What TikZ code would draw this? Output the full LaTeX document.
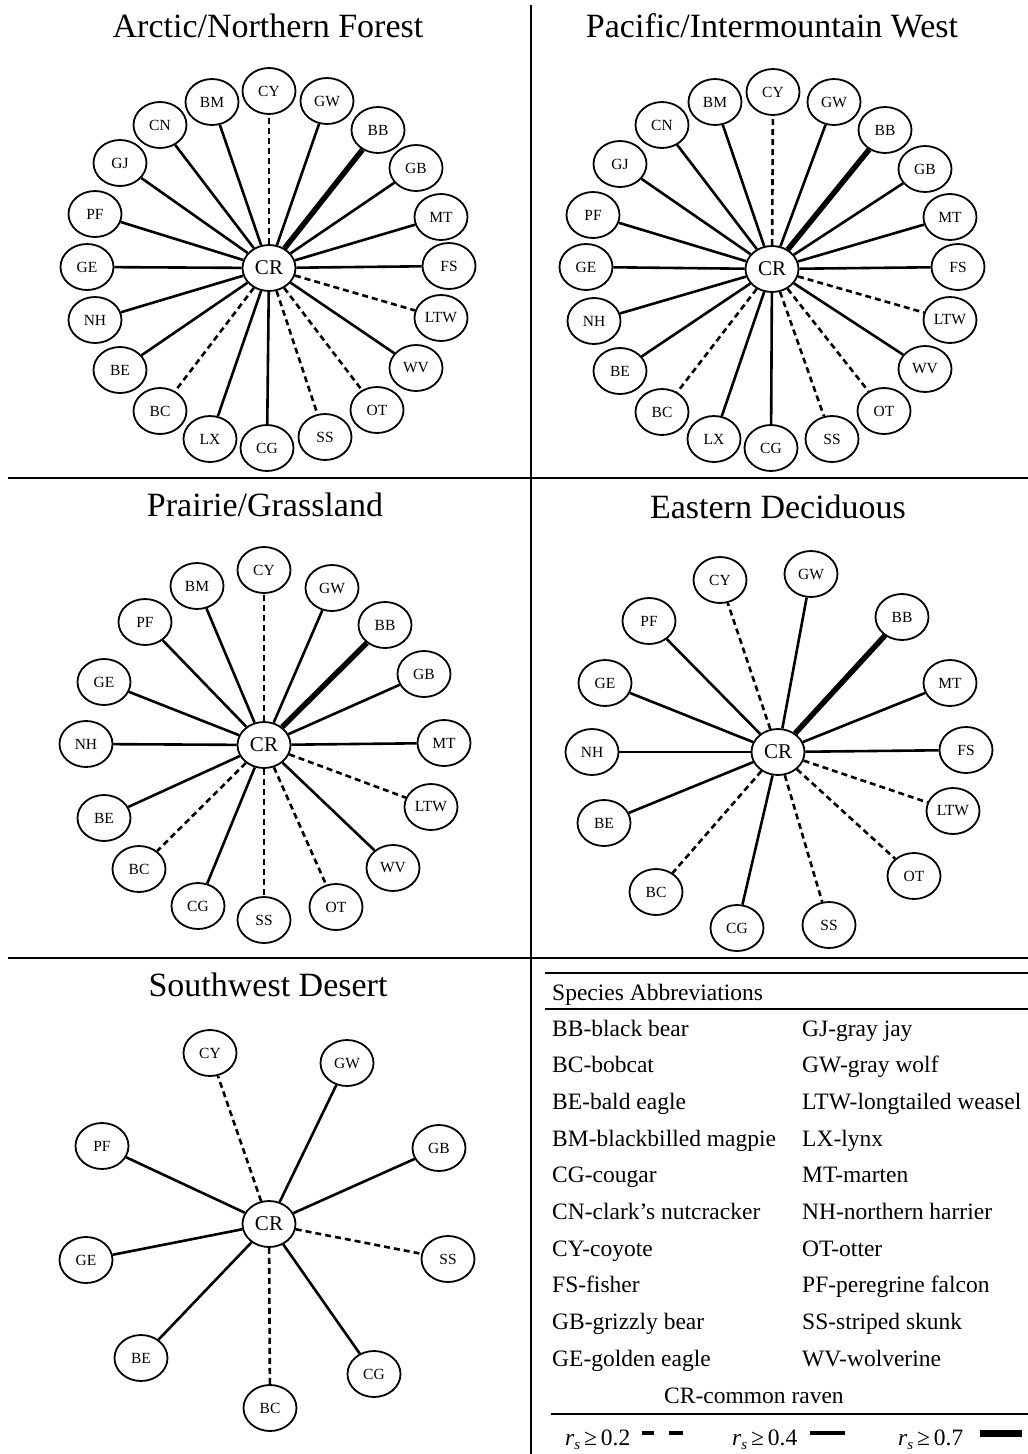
\documentclass[tikz,border=0pt]{standalone}
\usepackage{fontspec}
\setmainfont{Liberation Serif}
\usetikzlibrary{shapes.geometric}
\tikzset{
  sp/.style={ellipse, draw, line width=1.8pt, minimum width=53pt, minimum height=46pt, inner sep=0pt, fill=white, font=\fontsize{15.5}{15.5}\selectfont},
  crn/.style={sp, font=\fontsize{21}{21}\selectfont},
  edge/.style={line width=2.6pt},
  dedge/.style={line width=2.6pt, dash pattern=on 6pt off 4pt},
  tedge/.style={line width=5.5pt},
  ttl/.style={anchor=base, inner sep=0pt, font=\fontsize{34}{34}\selectfont},
  lt/.style={anchor=base west, inner sep=0pt, font=\fontsize{23.5}{23.5}\selectfont},
  rule/.style={line width=2pt},
  lrule/.style={line width=1.4pt}
}
\begin{document}
\begin{tikzpicture}[x=1pt,y=-1pt]
\useasboundingbox (0,0) rectangle (1028,1454);
% dividers
\draw[rule] (531,5) -- (531,1454);
\draw[rule] (8,478) -- (1028,478);
\draw[rule] (8,958) -- (1028,958);

% ---------- Panel A: Arctic/Northern Forest
\node[ttl] (ta) at (268,37) {Arctic/Northern Forest};
\foreach \n/\x/\y in {CY/269/91,BM/212/102,CN/160/125,GJ/120/163,PF/95/214,GE/87/267,NH/95/320,BE/120/370,BC/160/411,LX/210/439,CG/267/448,SS/325/437,OT/377/410,WV/416/368,LTW/441/318,FS/449/266,MT/441/217,GB/416/168,BB/378/130,GW/327/101}
  \node[sp] (a\n) at (\x,\y) {\n};
\node[crn] (aCR) at (269,268) {CR};
\foreach \n in {BM,CN,GJ,PF,GE,NH,BE,LX,CG,WV,FS,MT,GB,GW} \draw[edge] (aCR) -- (a\n);
\foreach \n in {CY,BC,SS,OT,LTW} \draw[dedge] (aCR) -- (a\n);
\draw[tedge] (aCR) -- (aBB);

% ---------- Panel B: Pacific/Intermountain West
\node[ttl] (tb) at (772,37) {Pacific/Intermountain West};
\foreach \n/\x/\y in {CY/773/92,BM/715/102,CN/662/125,GJ/620/164,PF/593/215,GE/586/267,NH/594/321,BE/620/371,BC/662/412,LX/714/439,CG/771/448,SS/832/439,OT/884/411,WV/925/369,LTW/950/320,FS/958/267,MT/950/217,GB/925/169,BB/885/130,GW/834/102}
  \node[sp] (b\n) at (\x,\y) {\n};
\node[crn] (bCR) at (772,269) {CR};
\foreach \n in {BM,CN,GJ,PF,GE,NH,BE,LX,CG,WV,FS,MT,GB,GW} \draw[edge] (bCR) -- (b\n);
\foreach \n in {CY,BC,SS,OT,LTW} \draw[dedge] (bCR) -- (b\n);
\draw[tedge] (bCR) -- (bBB);

% ---------- Panel C: Prairie/Grassland
\node[ttl] (tc) at (265,516) {Prairie/Grassland};
\foreach \n/\x/\y in {CY/264/570,BM/197/586,PF/145/622,GE/104/682,NH/86/744,BE/104/818,BC/139/869,CG/198/906,SS/264/920,OT/336/907,WV/393/868,LTW/431/807,MT/444/743,GB/424/674,BB/385/625,GW/332/588}
  \node[sp] (c\n) at (\x,\y) {\n};
\node[crn] (cCR) at (264,745) {CR};
\foreach \n in {BM,PF,GE,NH,BE,CG,WV,MT,GB,GW} \draw[edge] (cCR) -- (c\n);
\foreach \n in {CY,BC,SS,OT,LTW} \draw[dedge] (cCR) -- (c\n);
\draw[tedge] (cCR) -- (cBB);

% ---------- Panel D: Eastern Deciduous
\node[ttl] (td) at (778,518) {Eastern Deciduous};
\foreach \n/\x/\y in {CY/720/580,GW/811/574,PF/649/621,BB/902/617,GE/605/683,MT/950/683,NH/592/752,FS/966/750,BE/604/823,LTW/953/811,BC/656/892,OT/914/876,CG/737/928,SS/829/925}
  \node[sp] (d\n) at (\x,\y) {\n};
\node[crn] (dCR) at (778,752) {CR};
\foreach \n in {GW,PF,GE,MT,NH,FS,BE,CG} \draw[edge] (dCR) -- (d\n);
\foreach \n in {CY,LTW,BC,OT,SS} \draw[dedge] (dCR) -- (d\n);
\draw[tedge] (dCR) -- (dBB);

% ---------- Panel E: Southwest Desert
\node[ttl] (te) at (268,996) {Southwest Desert};
\foreach \n/\x/\y in {CY/210/1053,GW/347/1063,PF/102/1146,GB/439/1148,GE/86/1260,SS/448/1259,BE/141/1358,CG/374/1374,BC/270/1408}
  \node[sp] (e\n) at (\x,\y) {\n};
\node[crn] (eCR) at (269,1224) {CR};
\foreach \n in {GW,PF,GB,GE,BE,CG} \draw[edge] (eCR) -- (e\n);
\foreach \n in {CY,SS,BC} \draw[dedge] (eCR) -- (e\n);

% ---------- Legend
\draw[lrule] (545,973) -- (1028,973);
\draw[lrule] (545,1009) -- (1028,1009);
\draw[lrule] (551,1414) -- (1028,1414);
\node[lt] (lh) at (552,1000) {Species Abbreviations};
\foreach \t [count=\i] in {BB-black bear,BC-bobcat,BE-bald eagle,BM-blackbilled magpie,CG-cougar,CN-clark’s nutcracker,CY-coyote,FS-fisher,GB-grizzly bear,GE-golden eagle}
  \node[lt] (l\i) at (552,999.3+36.7*\i) {\t};
\foreach \t [count=\i] in {GJ-gray jay,GW-gray wolf,LTW-longtailed weasel,LX-lynx,MT-marten,NH-northern harrier,OT-otter,PF-peregrine falcon,SS-striped skunk,WV-wolverine}
  \node[lt] (r\i) at (802,999.3+36.7*\i) {\t};
\node[lt] (lcr) at (664,1403) {CR-common raven};

\node[lt] (k1) at (565,1445) {\textit{r}\raisebox{-0.45ex}{\fontsize{15}{15}\selectfont\textit{s}}\,≥\,0.2};
\node[lt] (k2) at (732,1445) {\textit{r}\raisebox{-0.45ex}{\fontsize{15}{15}\selectfont\textit{s}}\,≥\,0.4};
\node[lt] (k3) at (898,1445) {\textit{r}\raisebox{-0.45ex}{\fontsize{15}{15}\selectfont\textit{s}}\,≥\,0.7};
\draw[line width=4pt] (642,1433) -- (654,1433);
\draw[line width=4pt] (669,1433) -- (683,1433);
\draw[line width=4pt] (810,1433) -- (845,1433);
\draw[line width=7pt] (980,1433) -- (1022,1433);
\end{tikzpicture}
\end{document}
